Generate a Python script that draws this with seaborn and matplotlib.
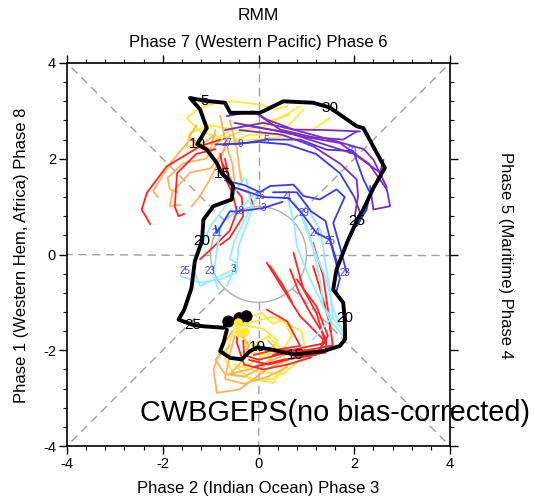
import numpy as np
import pandas as pd
import matplotlib
matplotlib.use("Agg")
import matplotlib.pyplot as plt
import seaborn as sns

# ---------------- data ----------------
title = "RMM"
top_label = "Phase 7 (Western Pacific) Phase 6"
bottom_label = "Phase 2 (Indian Ocean) Phase 3"
left_label = "Phase 1 (Western Hem, Africa) Phase 8"
right_label = "Phase 5 (Maritime) Phase 4"
model_text = "CWBGEPS(no bias-corrected)"
tick_values = [-4, -2, 0, 2, 4]

# observed RMM1 / RMM2 trajectory
obs_x = [-0.66, -0.73, -0.80, -0.59, -0.35, -0.18, -0.03, 0.25, 0.50, 0.76,
         1.35, 1.70, 1.81, 1.80, 1.77, 1.56, 1.63, 1.85, 2.05, 2.19,
         2.40, 2.64, 2.19, 2.05, 1.49, 1.14, 0.52, 0.03, -0.59, -0.70,
         -1.12, -1.43, -1.22, -1.08, -1.28, -1.08, -0.87, -0.76, -0.66, -0.53,
         -0.56, -0.94, -1.15, -1.18, -1.33, -1.40, -1.55, -1.67, -1.37, -1.15,
         -0.73, -0.63]
obs_y = [-1.57, -1.84, -2.02, -2.16, -2.19, -2.02, -1.94, -1.98, -2.04, -2.09,
         -2.02, -1.91, -1.77, -1.32, -1.01, -0.73, -0.31, 0.25, 0.70, 0.94,
         1.39, 1.81, 2.64, 2.68, 3.07, 3.17, 3.20, 2.96, 2.96, 3.17,
         3.21, 3.27, 3.03, 2.64, 2.30, 2.19, 1.91, 1.68, 1.60, 1.43,
         1.15, 1.01, 0.73, 0.29, -0.14, -0.70, -1.15, -1.36, -1.47, -1.50,
         -1.53, -1.40]
obs_day = ["", "", "", "", "", "", "10", "", "", "15",
           "", "", "", "20", "", "", "", "", "25", "",
           "", "", "", "", "30", "", "", "", "", "",
           "5", "", "", "", "10", "", "", "15", "", "",
           "", "", "", "20", "", "", "", "", "25", "",
           "", ""]

# initial points
start_x = [-0.63, -0.40, -0.25]
start_y = [-1.40, -1.33, -1.29]
ystart_x = [-0.42, -0.39, -0.28]
ystart_y = [-1.43, -1.64, -1.62]

# ensemble members (lists of (RMM1, RMM2))
yellow_lines = [
    [(-0.8, 2.45), (-1.2, 2.55), (-1.5, 2.85), (-1.22, 3.06), (-0.87, 3.17), (-0.53, 3.20), (0.03, 3.13), (0.38, 3.03), (0.6, 3.1)],
    [(-0.9, 2.4), (-0.53, 2.64), (0.1, 2.75), (0.66, 2.92)],
    [(-0.7, 2.3), (-0.2, 2.5), (0.45, 2.51), (0.94, 3.03)],
    [(-1.0, 2.3), (-0.3, 2.6), (0.2, 2.7), (0.87, 3.10)],
    [(-0.6, 2.35), (0.4, 2.45), (1.14, 2.61), (1.49, 2.85)],
    [(-1.1, 2.3), (-1.50, 2.26), (-1.43, 2.54), (-1.0, 2.7), (-0.5, 2.6)],
    [(-0.45, -1.45), (-0.2, -1.3), (0.07, -1.22), (0.3, -1.45), (0.52, -1.36), (0.7, -1.7), (0.5, -2.0), (0.1, -2.1), (-0.2, -2.3), (-0.4, -2.35)],
    [(-0.4, -1.5), (-0.3, -1.8), (-0.1, -1.9), (0.2, -1.7), (0.45, -1.95), (0.6, -2.3), (0.3, -2.6), (-0.18, -2.61), (-0.5, -2.3)],
    [(-0.5, -1.5), (-0.1, -1.4), (0.3, -1.3), (0.9, -1.6), (1.0, -2.1), (0.5, -2.5), (0.0, -2.45), (-0.39, -2.33)],
    [(-0.45, -1.4), (-0.6, -1.8), (-0.7, -2.2), (-0.5, -2.5), (-0.1, -2.6), (0.31, -2.68), (0.5, -2.4)],
    [(-0.5, -1.45), (0.1, -1.55), (0.4, -1.8), (0.2, -2.1), (-0.2, -2.05), (-0.3, -1.75)],
]
orange_lines = [
    [(-0.9, 2.6), (-1.0, 2.2), (-1.43, 2.40), (-1.85, 1.9), (-2.20, 1.32), (-2.1, 1.2)],
    [(-0.8, 2.4), (-1.1, 2.0), (-1.57, 1.91), (-1.9, 1.6), (-1.85, 1.36), (-1.7, 1.3)],
    [(-0.7, 2.2), (-1.0, 1.8), (-1.43, 1.71), (-1.8, 1.3), (-1.85, 1.01), (-1.64, 1.04)],
    [(-0.6, 2.5), (-0.8, 2.0), (-1.0, 1.6), (-1.22, 1.22), (-1.4, 1.0)],
    [(-0.8, 2.9), (-0.7, 2.4), (-0.55, 1.9), (-0.5, 1.55)],
    [(-0.6, 2.8), (-0.45, 2.2), (-0.4, 1.8), (-0.35, 1.5)],
    [(-1.3, 2.7), (-1.45, 2.45), (-1.2, 2.3), (-0.9, 2.5)],
    [(-0.55, -1.6), (-0.8, -2.0), (-0.94, -2.40), (-0.87, -2.89), (-0.4, -2.82), (0.17, -2.4), (0.6, -2.2), (0.9, -2.1)],
    [(-0.5, -1.7), (-0.6, -2.1), (-0.7, -2.6), (-0.3, -2.7), (0.2, -2.55), (0.6, -2.35)],
    [(-0.45, -1.55), (-0.2, -1.9), (-0.4, -2.3), (-0.6, -2.5), (-0.2, -2.4), (0.3, -2.2), (0.8, -2.0)],
    [(-0.6, -1.9), (-0.9, -2.2), (-0.7, -2.5), (-0.3, -2.55), (0.1, -2.35), (0.4, -2.0), (0.2, -1.8)],
]
red_lines = [
    [(-0.8, 2.4), (-1.22, 2.26), (-1.92, 1.84), (-2.33, 1.29), (-2.44, 0.94), (-2.26, 0.63)],
    [(-0.9, 2.2), (-1.3, 2.1), (-1.7, 1.7), (-1.75, 1.0), (-1.67, 0.80), (-1.55, 0.85)],
    [(-0.8, 2.1), (-0.7, 1.6), (-0.55, 1.3), (-0.45, 0.9), (-0.6, 0.5), (-0.95, 0.15), (-1.22, -0.10)],
    [(-0.7, 2.0), (-0.6, 1.5), (-0.35, 1.2), (-0.32, 0.80), (-0.6, 0.35), (-0.8, 0.2)],
    [(-0.75, 1.9), (-0.5, 1.4), (-0.2, 1.3), (-0.1, 1.0)],
    [(0.17, -0.17), (0.5, -0.7), (0.87, -1.29), (1.35, -1.77), (1.3, -2.0), (0.6, -2.05), (0.0, -2.2), (-0.3, -2.1), (-0.32, -1.8)],
    [(0.66, -0.31), (0.85, -0.8), (1.08, -1.22), (1.42, -1.77), (1.4, -2.05), (0.8, -2.15), (0.2, -2.3), (-0.2, -2.2)],
    [(0.80, -0.52), (1.0, -0.8), (1.21, -1.08), (1.45, -1.7), (1.2, -2.1), (0.5, -2.2), (-0.1, -2.35)],
    [(1.14, -0.24), (1.25, -0.6), (1.35, -0.94), (1.5, -1.5), (1.55, -1.9), (1.0, -2.0), (0.4, -2.0), (0.0, -1.95)],
    [(0.73, 0.04), (0.85, -0.4), (0.94, -0.73), (1.21, -1.22), (1.4, -1.85), (0.9, -1.95), (0.3, -2.1)],
    [(0.24, -0.24), (0.52, -0.66), (0.7, -1.0)],
    [(1.14, 0.24), (1.35, -0.45), (1.46, -1.22), (1.5, -1.6)],
    [(0.17, -1.15), (0.6, -1.4), (0.87, -1.91), (0.3, -2.0), (-0.1, -2.1)],
    [(-0.45, -1.6), (-0.45, -1.85), (-0.3, -2.3), (0.1, -2.4), (0.6, -2.3), (1.1, -2.15)],
]
cyan_lines = [
    [(0.0, 1.35), (-0.39, 0.94), (-0.77, 0.66), (-0.87, 0.10), (-0.94, -0.45), (-0.84, -0.73)],
    [(-0.04, 1.22), (-0.21, 0.73), (-0.42, 0.17), (-0.46, -0.38), (-0.80, -0.52), (-1.22, -0.59), (-1.64, -0.45)],
    [(-0.3, 1.6), (-0.55, 1.2), (-1.0, 0.6), (-1.3, -0.1), (-1.36, -0.31), (-1.22, -0.66), (-0.9, -0.5), (-0.6, -0.35)],
    [(-0.25, 1.57), (-0.15, 1.0), (-0.5, 0.3), (-0.6, -0.1), (-0.46, -0.17), (-0.66, -0.66)],
    [(0.6, 1.25), (0.75, 0.6), (0.8, 0.17), (1.08, -0.52), (1.49, -1.36), (1.77, -1.71)],
    [(0.75, 1.1), (1.0, 0.6), (1.2, 0.0), (1.42, -0.52), (1.56, -1.15), (1.77, -1.64)],
    [(1.0, 1.0), (1.3, 0.5), (1.4, -0.2), (1.5, -0.8), (1.55, -1.3), (1.14, -1.77)],
    [(0.9, 0.8), (1.15, 0.1), (1.3, -0.6), (1.35, -1.1), (1.7, -1.5)],
]
blue_lines = [
    [(-0.9, 2.3), (-0.39, 2.31), (0.17, 2.40), (0.87, 2.40), (1.42, 2.19), (1.98, 2.16), (2.19, 1.57), (2.33, 1.29), (2.26, 0.94), (2.05, 0.59)],
    [(-0.7, 2.3), (0.0, 2.35), (0.6, 2.3), (1.2, 2.1), (1.7, 1.7), (2.0, 1.2), (2.15, 0.8)],
    [(-0.7, 1.55), (-0.3, 1.45), (0.03, 1.30), (0.24, 1.43), (0.73, 1.46), (0.94, 1.22), (1.28, 1.15), (1.63, 1.36), (1.8, 1.2), (1.56, 0.66), (1.70, 0.17), (1.84, -0.38)],
    [(-0.5, 1.4), (0.1, 1.2), (0.62, 1.18), (0.90, 0.87), (1.21, 0.45), (1.49, 0.31), (1.6, -0.1), (1.7, -0.5), (1.62, -0.8)],
    [(0.3, 1.3), (0.8, 1.3), (1.1, 0.9), (1.4, 0.7), (1.5, 0.3), (1.65, -0.2)],
    [(-0.9, 0.6), (-0.87, 0.45), (-0.6, 0.9), (-0.42, 0.90), (0.10, 0.97), (0.5, 1.1)],
]
purple_lines = [
    [(-0.66, 2.89), (-0.11, 2.99), (0.45, 2.61), (1.14, 2.45), (1.77, 2.40), (2.05, 2.57)],
    [(-0.5, 2.75), (0.3, 2.6), (1.0, 2.45), (1.70, 2.33), (2.3, 1.9), (2.68, 1.36), (2.75, 1.01), (2.40, 0.94), (2.33, 1.43)],
    [(-0.4, 2.6), (0.5, 2.5), (1.14, 2.26), (1.7, 1.9), (2.05, 1.57), (2.08, 1.22), (2.01, 0.80)],
    [(-0.3, 2.7), (0.6, 2.55), (1.28, 2.33), (2.0, 2.1), (2.54, 1.71), (2.61, 1.98)],
    [(-0.7, 2.6), (0.1, 2.75), (0.73, 2.61), (1.4, 2.6), (2.12, 2.57)],
    [(-0.04, 2.96), (0.17, 2.82), (0.73, 2.61), (1.5, 2.4), (2.2, 2.2), (2.40, 1.98), (2.68, 1.4)],
]
blue_day_text = ["25", "23", "3", "21", "18", "3", "21", "29", "24", "25", "23", "5", "9", "31", "27", "16"]
blue_day_x = [-1.53, -1.01, -0.53, -0.87, -0.42, 0.10, 0.59, 0.94, 1.18, 1.49, 1.81, 0.17, -0.39, 1.98, -0.66, 0.03]
blue_day_y = [-0.35, -0.35, -0.31, 0.45, 0.90, 0.97, 1.22, 0.87, 0.45, 0.28, -0.38, 2.40, 2.31, 2.16, 2.33, 1.22]

group_colors = {"yellow": "#FFE838", "orange": "#FFB35A", "red": "#FF2525",
                "cyan": "#92EEFF", "blue": "#3A3AF2", "purple": "#7B2CC8"}
groups = [("yellow", yellow_lines), ("orange", orange_lines), ("red", red_lines),
          ("cyan", cyan_lines), ("blue", blue_lines), ("purple", purple_lines)]

# ---------------- figure ----------------
sns.set_theme(style="white")
plt.rcParams["font.family"] = ["Liberation Sans", "DejaVu Sans"]
plt.rcParams["text.color"] = "black"
plt.rcParams["axes.labelcolor"] = "black"
plt.rcParams["xtick.color"] = "black"
plt.rcParams["ytick.color"] = "black"

fig = plt.figure(figsize=(5.35, 5.03), dpi=100)
ax = fig.add_axes([67 / 535, 57 / 503, 383 / 535, 383 / 503])

# reference lines: dashed axes / diagonals outside unit circle, unit circle
ref_color = "#A0A0A0"
for ang in np.deg2rad([0, 45, 90, 135, 180, 225, 270, 315]):
    c, s = np.cos(ang), np.sin(ang)
    r_end = 4 / max(abs(c), abs(s))
    ax.plot([c, r_end * c], [s, r_end * s], ls=(0, (6, 4)), color=ref_color, lw=1.0, zorder=1)
th = np.linspace(0, 2 * np.pi, 200)
ax.plot(np.cos(th), np.sin(th), color="#B0B0B0", lw=1.0, zorder=1)

# ensemble members
for name, lines in groups:
    rows = []
    for m, line in enumerate(lines):
        for k, (px, py) in enumerate(line):
            rows.append({"x": px, "y": py, "member": m, "step": k})
    df = pd.DataFrame(rows)
    sns.lineplot(data=df, x="x", y="y", units="member", estimator=None, sort=False,
                 color=group_colors[name], lw=1.3, ax=ax, zorder=2, legend=False)

# blue day labels
for t, bx, by in zip(blue_day_text, blue_day_x, blue_day_y):
    ax.text(bx, by, t, color="#3A3AF2", fontsize=7, ha="center", va="center", zorder=3)

# observation
obs_df = pd.DataFrame({"x": obs_x, "y": obs_y, "day": obs_day, "order": range(len(obs_x))})
sns.lineplot(data=obs_df, x="x", y="y", sort=False, estimator=None, color="black",
             lw=2.8, ax=ax, zorder=4, legend=False)
for _, r in obs_df[obs_df["day"] != ""].iterrows():
    ax.text(r["x"], r["y"], r["day"], fontsize=11, ha="center", va="center",
            color="black", zorder=5)

sns.scatterplot(x=start_x, y=start_y, color="black", s=75, edgecolor="none", ax=ax, zorder=6)
sns.scatterplot(x=ystart_x, y=ystart_y, color="#FFE838", s=45, edgecolor="none", ax=ax, zorder=6)

# axes styling
ax.set_xlim(-4, 4)
ax.set_ylim(-4, 4)
ax.set_xticks(tick_values)
ax.set_yticks(tick_values)
ax.set_xticks(np.arange(-4, 4.01, 0.4), minor=True)
ax.set_yticks(np.arange(-4, 4.01, 0.4), minor=True)
ax.set_xticklabels([str(v) for v in tick_values], fontsize=10.5)
ax.set_yticklabels([str(v) for v in tick_values], fontsize=10.5)
ax.tick_params(which="major", direction="out", length=6, width=1.0, color="black",
               top=True, right=True, bottom=True, left=True, pad=2)
ax.tick_params(which="minor", direction="out", length=3, width=0.8, color="black",
               top=True, right=True, bottom=True, left=True)
ax.set_xlabel("")
ax.set_ylabel("")
for sp in ax.spines.values():
    sp.set_color("black")
    sp.set_linewidth(1.2)

ax.text(0.19, 0.085, model_text, transform=ax.transAxes, fontsize=20.8,
        ha="left", va="center", clip_on=False, zorder=7, color="black")

cx = (67 + 383 / 2) / 535
fig.text(cx, 1 - 15 / 503, title, ha="center", va="center", fontsize=12.5)
fig.text(cx, 1 - 42 / 503, top_label, ha="center", va="center", fontsize=12)
fig.text(cx, 1 - 488 / 503, bottom_label, ha="center", va="center", fontsize=12)
fig.text(22 / 535, 1 - 255 / 503, left_label, ha="center", va="center", rotation=90, fontsize=12)
fig.text(505 / 535, 1 - 255 / 503, right_label, ha="center", va="center", rotation=-90, fontsize=12)

fig.savefig("out.png", dpi=100)
